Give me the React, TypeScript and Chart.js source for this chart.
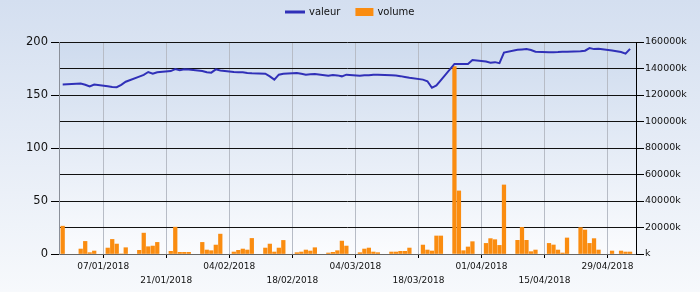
import { useEffect, useRef } from 'react';
import { Chart, registerables } from 'chart.js';

Chart.register(...registerables);

const dates: string[] = [
  '2017-12-29', '2018-01-02', '2018-01-03', '2018-01-04', '2018-01-05',
  '2018-01-08', '2018-01-09', '2018-01-10', '2018-01-11', '2018-01-12',
  '2018-01-15', '2018-01-16', '2018-01-17', '2018-01-18', '2018-01-19',
  '2018-01-22', '2018-01-23', '2018-01-24', '2018-01-25', '2018-01-26',
  '2018-01-29', '2018-01-30', '2018-01-31', '2018-02-01', '2018-02-02',
  '2018-02-05', '2018-02-06', '2018-02-07', '2018-02-08', '2018-02-09',
  '2018-02-12', '2018-02-13', '2018-02-14', '2018-02-15', '2018-02-16',
  '2018-02-19', '2018-02-20', '2018-02-21', '2018-02-22', '2018-02-23',
  '2018-02-26', '2018-02-27', '2018-02-28', '2018-03-01', '2018-03-02',
  '2018-03-05', '2018-03-06', '2018-03-07', '2018-03-08', '2018-03-09',
  '2018-03-12', '2018-03-13', '2018-03-14', '2018-03-15', '2018-03-16',
  '2018-03-19', '2018-03-20', '2018-03-21', '2018-03-22', '2018-03-23',
  '2018-03-26', '2018-03-27', '2018-03-28', '2018-03-29', '2018-03-30',
  '2018-04-02', '2018-04-03', '2018-04-04', '2018-04-05', '2018-04-06',
  '2018-04-09', '2018-04-10', '2018-04-11', '2018-04-12', '2018-04-13',
  '2018-04-16', '2018-04-17', '2018-04-18', '2018-04-19', '2018-04-20',
  '2018-04-23', '2018-04-24', '2018-04-25', '2018-04-26', '2018-04-27',
  '2018-04-30', '2018-05-02', '2018-05-03', '2018-05-04',
];

const valeur: number[] = [
  160.0, 160.8, 159.7, 158.0, 159.8,
  158.3, 157.5, 157.3, 159.5, 162.5,
  167.3, 169.0, 171.7, 170.0, 171.5,
  172.6, 174.5, 173.3, 174.2, 174.0,
  172.6, 171.5, 171.1, 174.2, 173.2,
  171.7, 171.4, 171.4, 170.8, 170.5,
  170.1, 167.5, 164.5, 169.2, 170.1,
  170.8, 170.1, 169.2, 169.5, 169.8,
  168.2, 168.9, 168.5, 167.6, 169.2,
  168.2, 168.6, 168.6, 169.0, 169.2,
  168.6, 168.3, 167.8, 167.0, 166.2,
  164.5, 163.0, 156.8, 159.0, 164.0,
  179.3, 179.2, 179.2, 179.2, 183.0,
  181.5, 180.5, 181.0, 180.0, 190.0,
  192.7, 193.0, 193.3, 192.5, 190.9,
  190.3, 190.3, 190.5, 190.9, 190.9,
  191.2, 191.8, 194.3, 193.3, 193.7,
  192.0, 190.5, 189.0, 193.5,
];

// volume in thousands
const volume: number[] = [
  21000, 3750, 9500, 1000, 2250,
  4500, 11000, 7500, 0, 4750,
  2750, 15750, 5500, 6000, 8750,
  2000, 20250, 1250, 1250, 1250,
  8750, 3000, 2500, 6750, 15000,
  1500, 2750, 3750, 3000, 11750,
  4500, 7500, 1500, 4500, 10250,
  1000, 1500, 3000, 2250, 4750,
  750, 1250, 2500, 9750, 6000,
  1000, 3750, 4500, 1500, 1000,
  1500, 1500, 2000, 2000, 4500,
  6750, 3000, 2250, 13600, 13600,
  141500, 47600, 2500, 5300, 9300,
  8000, 11600, 10800, 6500, 52100,
  10300, 20100, 10300, 1750, 3000,
  8000, 6800, 3000, 750, 12100,
  19900, 18100, 8000, 11600, 3000,
  2250, 2250, 1500, 1500,
];

const xTickDates: string[] = [
  '2018-01-07', '2018-01-21', '2018-02-04', '2018-02-18', '2018-03-04',
  '2018-03-18', '2018-04-01', '2018-04-15', '2018-04-29',
];
const xTickLabels: string[] = [
  '07/01/2018', '21/01/2018', '04/02/2018', '18/02/2018', '04/03/2018',
  '18/03/2018', '01/04/2018', '15/04/2018', '29/04/2018',
];

const seriesNames: string[] = ['valeur', 'volume'];

const FONT = "'DejaVu Sans', sans-serif";
const LINE_COLOR = '#3030b8';
const BAR_COLOR = '#fa8c10';

const dayNum = (s: string): number => {
  const [y, m, d] = s.split('-').map(Number);
  return (Date.UTC(y, m - 1, d) - Date.UTC(2018, 0, 7)) / 86400000;
};

const backgroundPlugin = {
  id: 'bgGradient',
  beforeDraw(chart: any) {
    const { ctx, width, height, chartArea } = chart;
    ctx.save();
    const g = ctx.createLinearGradient(0, 0, 0, height);
    g.addColorStop(0, '#d4dff0');
    g.addColorStop(1, '#f7f9fc');
    ctx.fillStyle = g;
    ctx.fillRect(0, 0, width, height);
    if (chartArea) {
      const g2 = ctx.createLinearGradient(0, chartArea.top, 0, chartArea.bottom);
      g2.addColorStop(0, '#cedbee');
      g2.addColorStop(1, '#fbfcfe');
      ctx.fillStyle = g2;
      ctx.fillRect(chartArea.left, chartArea.top, chartArea.right - chartArea.left, chartArea.bottom - chartArea.top);
    }
    ctx.restore();
  },
};

// Custom legend drawn at the top centre
const legendPlugin = {
  id: 'topLegend',
  afterDraw(chart: any) {
    const { ctx, width } = chart;
    ctx.save();
    ctx.font = `10px ${FONT}`;
    ctx.textBaseline = 'middle';
    ctx.textAlign = 'left';
    const sample = 20;
    const gapText = 4;
    const gapItem = 15;
    const w0 = ctx.measureText(seriesNames[0]).width;
    const w1 = ctx.measureText(seriesNames[1]).width;
    const total = sample + gapText + w0 + gapItem + 18 + gapText + w1;
    let x = Math.round(width / 2 - total / 2);
    const y = 12;
    ctx.strokeStyle = LINE_COLOR;
    ctx.lineWidth = 3;
    ctx.beginPath();
    ctx.moveTo(x, y);
    ctx.lineTo(x + sample, y);
    ctx.stroke();
    x += sample + gapText;
    ctx.fillStyle = '#111';
    ctx.fillText(seriesNames[0], x, y);
    x += w0 + gapItem;
    ctx.fillStyle = BAR_COLOR;
    ctx.fillRect(x, y - 4, 18, 8);
    x += 18 + gapText;
    ctx.fillStyle = '#111';
    ctx.fillText(seriesNames[1], x, y);
    ctx.restore();
  },
};

export default function App() {
  const ref = useRef<HTMLCanvasElement | null>(null);

  useEffect(() => {
    document.body.style.margin = '0';
    const canvas = ref.current;
    if (!canvas) return;
    Chart.defaults.font.family = FONT;

    const lineData = dates.map((d, i) => ({ x: dayNum(d), y: valeur[i] }));
    const barData = dates.map((d, i) => ({ x: dayNum(d), y: volume[i] }));

    const chart = new Chart(canvas, {
      type: 'bar',
      data: {
        datasets: [
          {
            type: 'line',
            label: seriesNames[0],
            data: lineData,
            yAxisID: 'y',
            borderColor: LINE_COLOR,
            backgroundColor: LINE_COLOR,
            borderWidth: 2,
            pointRadius: 0,
            tension: 0,
            order: 0,
          } as any,
          {
            type: 'bar',
            label: seriesNames[1],
            data: barData,
            yAxisID: 'yR',
            backgroundColor: BAR_COLOR,
            borderWidth: 0,
            barThickness: 3.6,
            order: 1,
          } as any,
        ],
      },
      options: {
        responsive: false,
        animation: false,
        layout: { padding: { top: 42, left: 0, right: 0, bottom: 0 } },
        plugins: {
          tooltip: { enabled: false },
          legend: { display: false },
        },
        scales: {
          x: {
            type: 'linear',
            offset: false,
            min: -9.82,
            max: 118.32,
            afterBuildTicks: (scale: any) => {
              scale.ticks = xTickDates.map((d) => ({ value: dayNum(d) }));
            },
            afterFit: (scale: any) => {
              scale.height = 38;
            },
            ticks: {
              autoSkip: false,
              maxRotation: 0,
              padding: 2,
              color: '#111',
              font: { size: 9, family: FONT, lineHeight: 1.5 },
              callback: (_v: any, idx: number) =>
                idx % 2 === 1 ? ['', xTickLabels[idx]] : xTickLabels[idx],
            },
            grid: {
              offset: false,
              color: '#b7bcc6',
              tickColor: '#000',
              tickLength: 4,
              lineWidth: 1,
            },
            border: { color: '#666' },
          },
          y: {
            position: 'left',
            min: 0,
            max: 200,
            afterFit: (scale: any) => {
              scale.width = 59;
            },
            ticks: {
              stepSize: 50,
              padding: 3,
              color: '#111',
              font: { size: 11.5, family: FONT },
            },
            grid: {
              drawOnChartArea: false,
              tickLength: 8,
              tickColor: '#000',
            },
            border: { color: '#8a8f99' },
          },
          yR: {
            position: 'right',
            min: 0,
            max: 160000,
            afterFit: (scale: any) => {
              scale.width = 64;
            },
            ticks: {
              stepSize: 20000,
              padding: 1,
              color: '#111',
              font: { size: 9.5, family: FONT },
              callback: (v: any) => (Number(v) === 0 ? '' : String(v)) + 'k',
            },
            grid: {
              color: '#111',
              tickColor: '#000',
              tickLength: 8,
            },
            border: { color: '#000' },
          },
        },
      },
      plugins: [backgroundPlugin, legendPlugin],
    });

    return () => chart.destroy();
  }, []);

  return (
    <div style={{ width: 700, height: 292 }}>
      <canvas ref={ref} width={700} height={292} style={{ display: 'block', width: 700, height: 292 }} />
    </div>
  );
}
